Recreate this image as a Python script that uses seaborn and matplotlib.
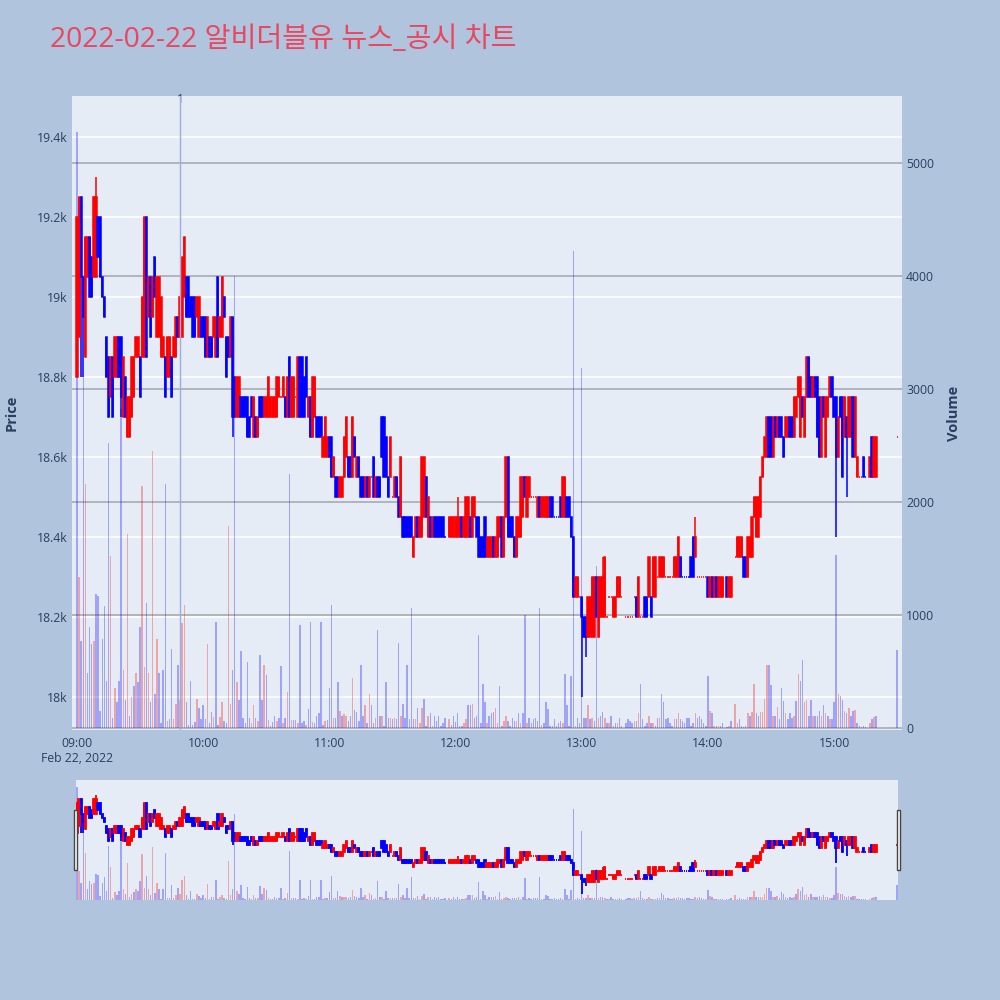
import numpy as np
import pandas as pd
import seaborn as sns
import matplotlib.pyplot as plt
from matplotlib.patches import Rectangle
from matplotlib.transforms import blended_transform_factory

TITLE = "2022-02-22 알비더블유 뉴스_공시 차트"
DAY_LABEL = "Feb 22, 2022"
HOUR_LABELS = ["09:00", "10:00", "11:00", "12:00", "13:00", "14:00", "15:00"]
PRICE_TICKS = [18000, 18200, 18400, 18600, 18800, 19000, 19200, 19400]
PRICE_LABELS = ["18k", "18.2k", "18.4k", "18.6k", "18.8k", "19k", "19.2k", "19.4k"]
VOLUME_TICKS = [0, 1000, 2000, 3000, 4000, 5000]
NEWS_MINUTE = 49
NEWS_LABEL = "1"

# one candle per minute from 09:00 (None = no trade in that minute)
opens = [
    18800, 18900, 19250, 19050, 18850, 19050, 19150, 19100, 19050, 19050,
    19200, 19200, 19050, 19000, 18900, 18850, 18750, 18850, 18800, 18800,
    18900, 18900, 18700, 18800, 18650, 18650, 18700, 18750, 18850, 18850,
    18850, 18850, 18850, 19200, 18950, 19050, 18950, 19100, 18900, 18900,
    18850, 18850, 18850, 18800, 18800, 18850, 18850, 18850, 18950, 18900,
    18900, 19000, 19050, 19050, 19000, 19000, 19000, 18950, 18900, 18950,
    18950, 18950, 18850, 18900, 18900, 18900, 18850, 19050, 18900, 18900,
    19000, 18900, 18900, 18850, 18950, 18800, 18700, 18700, 18750, 18750,
    18750, 18750, 18700, 18750, 18650, 18700, 18650, 18750, 18750, 18700,
    18700, 18700, 18700, 18700, 18700, 18700, 18750, 18750, 18750, 18750,
    18700, 18850, 18700, 18700, 18750, 18700, 18850, 18850, 18800, 18850,
    18700, 18750, 18650, 18700, 18700, 18700, 18700, 18600, 18600, 18600,
    18650, 18650, 18550, 18550, 18550, 18500, 18500, 18550, 18600, 18600,
    18600, 18550, 18650, 18550, 18600, 18550, 18550, 18500, 18550, 18500,
    18550, 18600, 18500, 18550, 18550, 18700, 18700, 18650, 18550, 18550,
    18500, 18500, 18550, 18500, 18450, 18450, 18450, 18450, 18450, 18450,
    18350, 18400, 18450, 18400, 18400, 18450, 18550, 18400, 18450, 18400,
    18450, 18450, 18450, 18450, 18450, 18400, None, 18400, 18400, 18400,
    18400, 18400, 18400, 18450, 18400, 18400, 18400, 18450, 18400, 18450,
    18450, 18450, 18400, 18400, 18450, 18350, 18350, 18350, 18400, 18350,
    18350, 18400, 18450, 18350, 18450, 18600, 18450, 18450, 18400, 18350,
    18400, 18400, 18450, 18550, 18450, 18500, 18500, 18500, 18500, 18450,
    18500, 18450, 18450, 18450, 18450, 18500, 18500, 18450, 18450, 18450,
    18500, 18450, 18450, 18500, 18500, 18450, 18400, 18250, 18250, 18250,
    18250, 18200, 18200, 18150, 18150, 18150, 18150, 18300, 18150, 18200,
    18200, 18200, 18200, 18250, 18250, 18200, 18200, 18250, 18250, 18250,
    None, 18200, 18200, 18200, 18200, 18250, 18250, 18200, 18200, 18200,
    18250, 18250, 18250, 18250, 18250, 18250, 18300, 18300, 18300, 18300,
    18300, 18300, 18300, 18300, 18300, 18300, 18300, 18350, 18300, 18300,
    18300, 18300, 18350, 18400, 18350, 18300, 18300, 18300, 18300, 18300,
    18300, 18250, 18300, 18250, 18300, 18250, 18250, 18250, None, 18300,
    18250, 18250, None, 18350, 18350, 18350, 18350, 18350, 18350, 18300,
    18350, 18350, 18450, 18400, 18400, 18450, 18550, 18600, 18600, 18700,
    18700, 18600, 18700, 18650, 18700, 18700, 18650, 18650, 18650, 18700,
    18700, 18650, 18700, 18750, 18650, 18750, 18650, 18750, 18850, 18800,
    18750, 18800, 18800, 18750, 18600, 18750, 18600, 18700, 18750, 18800,
    18750, 18750, 18600, 18750, 18750, 18650, 18700, 18650, 18650, 18750,
    18600, 18550, 18550, 18550, 18600, 18550, None, 18550, 18650, 18550,
    18550, None, None, None, None, None, None, None, None, None,
    18650,
]
highs = [
    19200, 19250, 19250, 19050, 19150, 19150, 19150, 19100, 19250, 19300,
    19200, 19200, 19050, 19000, 18900, 18850, 18850, 18850, 18900, 18900,
    18900, 18900, 18850, 18800, 18750, 18750, 18850, 18850, 18900, 18900,
    18850, 19000, 19200, 19200, 19050, 19050, 19050, 19100, 19050, 19050,
    19000, 18900, 18850, 18900, 18900, 18850, 18900, 18950, 18950, 19000,
    19100, 19150, 19050, 19050, 19000, 19000, 19000, 19000, 19000, 18950,
    18950, 18950, 18950, 18900, 18900, 18950, 18950, 19050, 18950, 19050,
    19000, 18900, 18900, 18950, 18950, 18800, 18800, 18800, 18750, 18750,
    18750, 18750, 18700, 18750, 18750, 18700, 18700, 18750, 18750, 18750,
    18750, 18800, 18750, 18750, 18750, 18800, 18800, 18750, 18800, 18750,
    18800, 18850, 18800, 18800, 18750, 18850, 18850, 18850, 18800, 18850,
    18750, 18750, 18800, 18800, 18700, 18700, 18700, 18650, 18700, 18650,
    18650, 18650, 18600, 18550, 18550, 18550, 18550, 18650, 18700, 18600,
    18600, 18700, 18650, 18600, 18600, 18550, 18550, 18550, 18550, 18550,
    18550, 18600, 18550, 18550, 18550, 18700, 18700, 18650, 18550, 18650,
    18500, 18550, 18550, 18500, 18600, 18450, 18450, 18450, 18450, 18450,
    18400, 18450, 18450, 18450, 18600, 18600, 18550, 18500, 18450, 18450,
    18450, 18450, 18450, 18450, 18450, 18400, None, 18450, 18450, 18450,
    18450, 18500, 18450, 18450, 18450, 18500, 18500, 18450, 18500, 18500,
    18450, 18450, 18400, 18400, 18450, 18400, 18400, 18400, 18400, 18400,
    18450, 18450, 18450, 18450, 18600, 18600, 18450, 18450, 18400, 18450,
    18450, 18550, 18550, 18550, 18550, 18550, 18500, 18500, 18500, 18500,
    18500, 18500, 18500, 18500, 18500, 18500, 18500, 18450, 18450, 18450,
    18500, 18550, 18550, 18500, 18500, 18450, 18400, 18300, 18300, 18250,
    18250, 18200, 18200, 18250, 18250, 18300, 18300, 18300, 18300, 18300,
    18350, 18350, 18200, 18250, 18250, 18250, 18250, 18300, 18300, 18250,
    None, 18200, 18200, 18200, 18200, 18250, 18250, 18300, 18200, 18200,
    18250, 18250, 18350, 18250, 18350, 18350, 18300, 18350, 18350, 18350,
    18300, 18300, 18300, 18300, 18350, 18350, 18400, 18350, 18300, 18300,
    18300, 18300, 18350, 18400, 18450, 18300, 18300, 18300, 18300, 18300,
    18300, 18300, 18300, 18300, 18300, 18300, 18300, 18300, None, 18300,
    18300, 18300, None, 18350, 18400, 18400, 18400, 18350, 18350, 18400,
    18400, 18450, 18500, 18500, 18500, 18550, 18600, 18650, 18700, 18700,
    18700, 18700, 18700, 18700, 18700, 18700, 18650, 18700, 18700, 18700,
    18700, 18750, 18750, 18800, 18800, 18750, 18750, 18850, 18850, 18800,
    18800, 18800, 18800, 18750, 18750, 18750, 18750, 18750, 18800, 18800,
    18750, 18750, 18700, 18750, 18750, 18750, 18700, 18750, 18750, 18750,
    18750, 18600, 18550, 18550, 18600, 18550, None, 18600, 18650, 18650,
    18650, None, None, None, None, None, None, None, None, None,
    18650,
]
lows = [
    18800, 18900, 18800, 18800, 18850, 19050, 19000, 19000, 19050, 19050,
    19100, 19050, 19000, 18950, 18800, 18700, 18750, 18700, 18800, 18800,
    18800, 18700, 18700, 18700, 18650, 18650, 18700, 18750, 18850, 18850,
    18750, 18850, 18850, 18850, 18950, 18900, 18950, 19000, 18900, 18900,
    18850, 18850, 18750, 18800, 18800, 18750, 18850, 18850, 18900, 18900,
    18900, 19000, 18950, 18950, 18950, 18900, 18900, 18950, 18900, 18900,
    18900, 18850, 18850, 18850, 18850, 18900, 18850, 18850, 18900, 18900,
    18950, 18800, 18850, 18850, 18650, 18700, 18700, 18700, 18700, 18700,
    18700, 18650, 18650, 18700, 18650, 18650, 18650, 18700, 18700, 18700,
    18700, 18700, 18700, 18700, 18700, 18700, 18750, 18750, 18750, 18700,
    18700, 18700, 18700, 18700, 18750, 18700, 18700, 18700, 18700, 18750,
    18700, 18650, 18650, 18700, 18650, 18650, 18650, 18600, 18600, 18600,
    18600, 18550, 18550, 18500, 18500, 18500, 18500, 18550, 18600, 18550,
    18550, 18550, 18600, 18550, 18550, 18500, 18500, 18500, 18500, 18500,
    18550, 18500, 18500, 18500, 18500, 18600, 18550, 18550, 18500, 18550,
    18500, 18500, 18500, 18450, 18450, 18400, 18400, 18400, 18400, 18400,
    18350, 18400, 18400, 18400, 18400, 18450, 18450, 18400, 18400, 18400,
    18400, 18400, 18400, 18400, 18400, 18400, None, 18400, 18400, 18400,
    18400, 18400, 18400, 18400, 18400, 18400, 18400, 18400, 18400, 18450,
    18400, 18350, 18350, 18350, 18350, 18350, 18350, 18350, 18350, 18350,
    18350, 18400, 18350, 18350, 18450, 18400, 18400, 18400, 18350, 18350,
    18400, 18400, 18450, 18500, 18450, 18500, 18500, 18500, 18500, 18450,
    18450, 18450, 18450, 18450, 18450, 18450, 18450, 18450, 18450, 18450,
    18450, 18450, 18450, 18450, 18450, 18400, 18250, 18250, 18250, 18250,
    18000, 18150, 18100, 18150, 18150, 18150, 18150, 18200, 18150, 18200,
    18200, 18200, 18200, 18250, 18250, 18200, 18200, 18250, 18250, 18250,
    None, 18200, 18200, 18200, 18200, 18250, 18200, 18200, 18200, 18200,
    18200, 18200, 18250, 18200, 18250, 18250, 18300, 18300, 18300, 18300,
    18300, 18300, 18300, 18300, 18300, 18300, 18300, 18300, 18300, 18300,
    18300, 18300, 18300, 18300, 18350, 18300, 18300, 18300, 18300, 18300,
    18250, 18250, 18250, 18250, 18250, 18250, 18250, 18250, None, 18250,
    18250, 18250, None, 18350, 18350, 18350, 18350, 18300, 18300, 18300,
    18350, 18350, 18450, 18400, 18400, 18450, 18550, 18600, 18600, 18600,
    18600, 18600, 18650, 18650, 18650, 18650, 18600, 18650, 18650, 18650,
    18650, 18650, 18700, 18750, 18650, 18700, 18650, 18750, 18750, 18750,
    18750, 18750, 18650, 18600, 18600, 18700, 18600, 18700, 18750, 18750,
    18700, 18400, 18600, 18700, 18550, 18650, 18500, 18650, 18650, 18600,
    18600, 18550, 18550, 18550, 18550, 18550, None, 18550, 18550, 18550,
    18550, None, None, None, None, None, None, None, None, None,
    18650,
]
closes = [
    19200, 19250, 19050, 18950, 19150, 19150, 19000, 19000, 19250, 19250,
    19100, 19050, 19000, 18950, 18800, 18700, 18850, 18700, 18900, 18900,
    18800, 18750, 18850, 18700, 18750, 18750, 18850, 18850, 18900, 18900,
    18750, 19000, 19200, 18850, 19050, 18900, 19050, 19000, 19050, 19050,
    19000, 18900, 18750, 18900, 18900, 18750, 18900, 18950, 18900, 19000,
    19100, 19150, 18950, 18950, 18950, 18900, 18900, 19000, 19000, 18900,
    18900, 18850, 18950, 18850, 18850, 18950, 18950, 18850, 18950, 19050,
    18950, 18800, 18850, 18950, 18700, 18700, 18800, 18800, 18700, 18700,
    18700, 18650, 18650, 18700, 18750, 18650, 18700, 18700, 18700, 18750,
    18750, 18800, 18750, 18750, 18750, 18800, 18800, 18750, 18800, 18700,
    18800, 18700, 18800, 18800, 18750, 18850, 18700, 18700, 18700, 18750,
    18750, 18650, 18800, 18800, 18650, 18650, 18650, 18650, 18700, 18650,
    18600, 18550, 18600, 18500, 18500, 18550, 18550, 18650, 18700, 18550,
    18550, 18700, 18600, 18600, 18550, 18500, 18500, 18550, 18500, 18550,
    18550, 18500, 18550, 18500, 18500, 18600, 18550, 18550, 18500, 18650,
    18500, 18550, 18500, 18450, 18600, 18400, 18400, 18400, 18400, 18400,
    18400, 18450, 18400, 18450, 18600, 18600, 18450, 18500, 18400, 18450,
    18400, 18400, 18400, 18400, 18400, 18400, None, 18450, 18450, 18450,
    18450, 18450, 18450, 18400, 18450, 18500, 18500, 18400, 18500, 18500,
    18400, 18350, 18350, 18350, 18350, 18400, 18400, 18400, 18350, 18400,
    18450, 18450, 18350, 18450, 18600, 18400, 18400, 18400, 18350, 18450,
    18450, 18550, 18550, 18500, 18550, 18550, 18500, 18500, 18500, 18500,
    18450, 18500, 18500, 18500, 18500, 18450, 18450, 18450, 18450, 18450,
    18450, 18550, 18550, 18450, 18450, 18400, 18250, 18300, 18300, 18250,
    18200, 18150, 18150, 18250, 18250, 18300, 18300, 18200, 18300, 18300,
    18300, 18350, 18200, 18250, 18250, 18250, 18250, 18300, 18300, 18250,
    None, 18200, 18200, 18200, 18200, 18250, 18200, 18300, 18200, 18200,
    18200, 18200, 18350, 18200, 18350, 18350, 18300, 18350, 18350, 18350,
    18300, 18300, 18300, 18300, 18350, 18350, 18400, 18300, 18300, 18300,
    18300, 18300, 18300, 18300, 18400, 18300, 18300, 18300, 18300, 18300,
    18250, 18300, 18250, 18300, 18250, 18300, 18300, 18300, None, 18250,
    18300, 18300, None, 18350, 18400, 18400, 18400, 18300, 18300, 18400,
    18400, 18450, 18500, 18500, 18500, 18550, 18600, 18650, 18700, 18600,
    18600, 18700, 18650, 18700, 18650, 18650, 18600, 18700, 18700, 18650,
    18650, 18750, 18750, 18800, 18800, 18700, 18750, 18850, 18750, 18750,
    18800, 18750, 18650, 18600, 18750, 18700, 18750, 18750, 18800, 18750,
    18700, 18600, 18700, 18700, 18550, 18750, 18650, 18750, 18750, 18600,
    18750, 18600, 18550, 18550, 18550, 18550, None, 18600, 18550, 18650,
    18650, None, None, None, None, None, None, None, None, None,
    18650,
]
volumes = [
    5270, 1340, 770, 3110, 2160, 490, 890, 740, 770, 1190,
    1170, 150, 790, 1080, 420, 2520, 1520, 90, 350, 230,
    420, 2820, 510, 250, 1720, 110, 270, 370, 490, 410,
    890, 2140, 540, 1110, 490, 230, 2450, 300, 790, 490,
    40, 510, 2160, 60, 80, 700, 80, 210, 560, 250,
    930, 1090, 230, 30, 420, 30, 50, 260, 180, 80,
    200, 80, 740, 40, 140, 100, 940, 30, 100, 230,
    60, 40, 1790, 210, 510, 4000, 410, 250, 680, 90,
    40, 580, 90, 40, 200, 90, 60, 650, 250, 560,
    470, 70, 20, 50, 110, 60, 90, 545, 40, 90,
    320, 2250, 70, 70, 70, 40, 910, 40, 60, 30,
    170, 940, 50, 40, 110, 130, 940, 30, 60, 70,
    350, 1090, 90, 90, 410, 150, 110, 120, 110, 60,
    110, 440, 160, 140, 60, 560, 110, 200, 40, 300,
    200, 40, 90, 870, 110, 110, 20, 410, 90, 90,
    80, 90, 80, 750, 110, 210, 90, 560, 80, 1060,
    80, 80, 180, 40, 180, 260, 20, 110, 130, 20,
    110, 60, 110, 20, 40, 90, 0, 80, 30, 110,
    50, 130, 20, 20, 40, 80, 200, 200, 210, 90,
    110, 820, 40, 390, 230, 40, 110, 130, 140, 180,
    40, 370, 20, 60, 110, 60, 20, 90, 60, 60,
    130, 40, 130, 1000, 40, 90, 40, 80, 90, 60,
    1060, 30, 40, 230, 170, 20, 20, 80, 20, 40,
    60, 40, 475, 200, 20, 460, 4220, 20, 90, 40,
    3190, 90, 90, 200, 80, 90, 60, 1430, 90, 110,
    140, 90, 40, 40, 110, 20, 40, 40, 90, 20,
    0, 40, 80, 60, 40, 60, 60, 130, 390, 80,
    20, 40, 110, 40, 40, 20, 90, 90, 300, 230,
    80, 90, 40, 20, 80, 80, 130, 80, 60, 40,
    90, 90, 20, 40, 130, 90, 110, 80, 40, 20,
    460, 150, 130, 20, 20, 20, 20, 40, 0, 10,
    20, 60, 0, 210, 40, 80, 20, 10, 20, 130,
    110, 140, 390, 130, 110, 140, 140, 260, 560, 560,
    380, 110, 110, 190, 80, 350, 240, 130, 80, 130,
    90, 110, 240, 475, 420, 600, 230, 250, 110, 250,
    110, 110, 110, 150, 110, 200, 130, 110, 80, 80,
    230, 1530, 300, 280, 250, 150, 130, 180, 110, 150,
    160, 40, 20, 10, 20, 10, 0, 40, 80, 100,
    110, 0, 0, 0, 0, 0, 0, 0, 0, 0,
    690,
]

INK = "#2a3f5f"
PAPER = "#b0c4de"
PLOT_BG = "#e5ecf6"
UP = "#ff0000"
DOWN = "#0000ff"

o = np.array(opens, dtype=float)
h = np.array(highs, dtype=float)
l = np.array(lows, dtype=float)
c = np.array(closes, dtype=float)
minutes = np.arange(len(c))

# flat candles keep the colour of the previous move, like plotly does
rising = []
last = True
for op, cl in zip(o, c):
    if not np.isnan(op) and cl != op:
        last = cl > op
    rising.append(last)
rising = np.array(rising)

# volume bars are red when the close beats the previous traded close
vol_side = []
prev_close = np.nan
for cl in c:
    vol_side.append("up" if (not np.isnan(prev_close) and cl > prev_close) else "down")
    if not np.isnan(cl):
        prev_close = cl

df = pd.DataFrame({"minute": minutes, "volume": volumes, "side": vol_side})


def draw_volume(ax):
    sns.histplot(data=df, x="minute", weights="volume", hue="side",
                 hue_order=["up", "down"], palette={"up": UP, "down": DOWN},
                 discrete=True, shrink=0.7, alpha=0.3, linewidth=0,
                 legend=False, ax=ax)


def draw_candles(ax, lw, width):
    ok = ~np.isnan(o)
    col = np.where(rising, UP, DOWN)[ok]
    x = minutes[ok]
    ax.vlines(x, l[ok], h[ok], colors=col, linewidth=lw, zorder=3)
    ax.bar(x, np.abs(c - o)[ok], bottom=np.minimum(o, c)[ok], width=width,
           color=col, edgecolor=col, linewidth=lw, zorder=3)


sns.set_theme(style="white")
plt.rcParams["font.family"] = ["Open Sans", "Noto Sans CJK KR", "DejaVu Sans"]

fig = plt.figure(figsize=(10, 10), dpi=100, facecolor=PAPER)

# main chart: volume on the base axes, price on the twin drawn above it
ax_v = fig.add_axes([0.072, 0.270, 0.830, 0.634], facecolor=PLOT_BG)
ax_p = ax_v.twinx()

draw_volume(ax_v)
draw_candles(ax_p, 1.1, 0.55)

ax_v.set_xlim(-2.38, 392.3)
ax_v.set_ylim(-17.7, 5593)
ax_p.set_ylim(17917.5, 19502.5)

price_tf = blended_transform_factory(ax_v.transAxes, ax_p.transData)
for p in PRICE_TICKS:
    ax_v.plot([0, 1], [p, p], transform=price_tf, color="white", lw=1.1, zorder=0.5)
for v in VOLUME_TICKS:
    ax_v.axhline(v, color="#a2a6ad", lw=1.1, zorder=0.6)

ax_p.yaxis.tick_left()
ax_p.yaxis.set_label_position("left")
ax_v.yaxis.tick_right()
ax_v.yaxis.set_label_position("right")

ax_p.set_yticks(PRICE_TICKS)
ax_p.set_yticklabels(PRICE_LABELS)
ax_v.set_yticks(VOLUME_TICKS)
ax_v.set_yticklabels([str(v) for v in VOLUME_TICKS])
ax_v.set_xticks(range(0, 361, 60))
ax_v.set_xticklabels([HOUR_LABELS[0] + "\n" + DAY_LABEL] + HOUR_LABELS[1:])

for ax in (ax_v, ax_p):
    ax.tick_params(length=0, pad=3, labelsize=8.8, labelcolor=INK)
    for s in ax.spines.values():
        s.set_visible(False)
ax_v.tick_params(axis="x", pad=5)
ax_v.grid(False)
ax_p.grid(False)

ax_v.set_xlabel("")
ax_p.set_ylabel("Price", fontsize=10.5, fontweight="bold", color=INK)
ax_p.yaxis.set_label_coords(-0.0645, 0.5)
ax_v.set_ylabel("Volume", fontsize=10.5, fontweight="bold", color=INK)
ax_v.yaxis.set_label_coords(1.0542, 0.5)

# news marker
ax_p.axvline(NEWS_MINUTE, color="#9aaee0", lw=1.0, zorder=4)
ax_p.text(NEWS_MINUTE, 0.995, NEWS_LABEL,
          transform=blended_transform_factory(ax_p.transData, ax_p.transAxes),
          ha="center", va="center", fontsize=8.5, color=INK)

fig.text(0.050, 0.960, TITLE, ha="left", va="center", fontsize=20.3, color="#e8475f")

# range slider
rs_v = fig.add_axes([0.076, 0.100, 0.822, 0.120], facecolor=PLOT_BG)
rs_p = rs_v.twinx()
draw_volume(rs_v)
draw_candles(rs_p, 1.3, 0.6)
rs_v.set_xlim(-0.48, 390.45)
rs_v.set_ylim(-17.7, 5593)
rs_p.set_ylim(17917.5, 19502.5)
for ax in (rs_v, rs_p):
    ax.set_xticks([])
    ax.set_yticks([])
    ax.set_xlabel("")
    ax.set_ylabel("")
    for s in ax.spines.values():
        s.set_visible(False)

for hx in (0.0735, 0.8965):
    fig.add_artist(Rectangle((hx, 0.130), 0.0035, 0.060, transform=fig.transFigure,
                             facecolor="white", edgecolor="#444444", lw=1, zorder=10))

fig.savefig("out.png", dpi=100, facecolor=PAPER)
